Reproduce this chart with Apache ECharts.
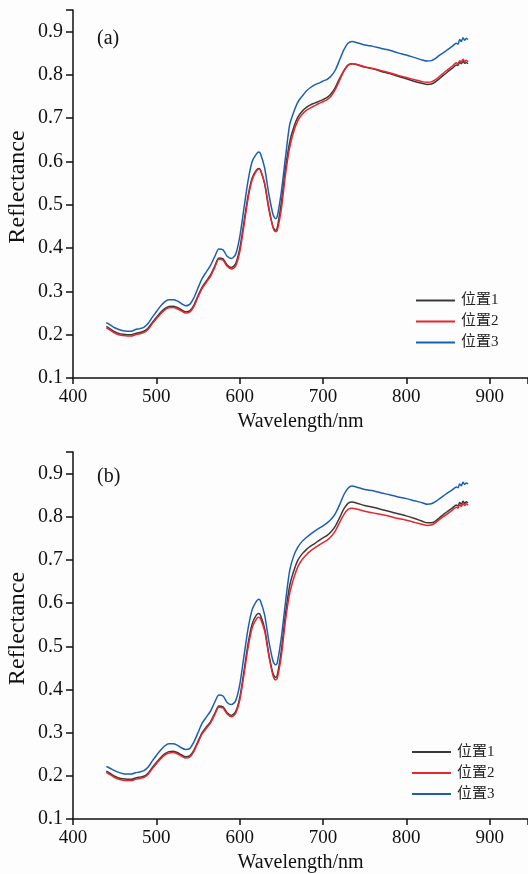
<!DOCTYPE html>
<html>
<head>
<meta charset="utf-8">
<script src="https://cdn.jsdelivr.net/npm/echarts@6/dist/echarts.min.js"></script>
<style>
html,body{margin:0;padding:0;background:#fdfdfd;}
#c{width:528px;height:874px;}
</style>
</head>
<body>
<div id="c"></div>
<script>
// Wavelength samples (nm)
const wavelengths = [
 440,445,450,455,460,465,470,475,480,485,
 490,495,500,505,510,515,520,525,530,535,
 540,545,550,555,560,565,570,575,580,585,
 590,595,600,605,610,615,620,623,625,630,
 635,640,643,645,650,655,660,665,670,675,
 680,685,690,695,700,705,710,715,720,725,
 730,735,740,750,760,770,780,790,800,810,
 820,825,830,835,840,845,850,855,860,862,
 864,866,868,870,872,874];

const seriesNames = ['位置1','位置2','位置3'];
const xTicks = [400,500,600,700,800,900];
const yTicks = [0.1,0.2,0.3,0.4,0.5,0.6,0.7,0.8,0.9];

// Panel (a)
const a_pos1 = [
 0.219,0.213,0.207,0.203,0.201,0.200,0.200,0.203,0.205,0.208,
 0.215,0.228,0.240,0.251,0.260,0.265,0.266,0.263,0.258,0.253,
 0.255,0.268,0.290,0.310,0.324,0.338,0.358,0.377,0.375,0.361,
 0.355,0.363,0.398,0.458,0.520,0.562,0.580,0.584,0.580,0.548,
 0.490,0.449,0.441,0.446,0.505,0.585,0.645,0.680,0.703,0.716,
 0.725,0.731,0.735,0.739,0.743,0.748,0.757,0.772,0.792,0.810,
 0.823,0.826,0.824,0.818,0.814,0.808,0.803,0.797,0.791,0.785,
 0.780,0.778,0.779,0.784,0.792,0.800,0.808,0.815,0.823,0.822,
 0.829,0.826,0.832,0.827,0.829,0.826];
const a_pos2 = [
 0.216,0.210,0.204,0.200,0.198,0.197,0.197,0.200,0.202,0.205,
 0.212,0.225,0.237,0.248,0.257,0.262,0.263,0.260,0.255,0.250,
 0.252,0.265,0.287,0.307,0.321,0.335,0.355,0.374,0.372,0.358,
 0.352,0.358,0.390,0.450,0.514,0.558,0.578,0.583,0.580,0.550,
 0.494,0.448,0.438,0.440,0.490,0.570,0.632,0.670,0.695,0.709,
 0.718,0.724,0.729,0.734,0.738,0.743,0.752,0.767,0.788,0.808,
 0.822,0.826,0.825,0.819,0.815,0.810,0.805,0.799,0.794,0.789,
 0.784,0.783,0.784,0.789,0.797,0.805,0.813,0.820,0.828,0.826,
 0.833,0.830,0.836,0.831,0.834,0.830];
const a_pos3 = [
 0.228,0.222,0.216,0.212,0.209,0.208,0.208,0.212,0.214,0.217,
 0.226,0.240,0.253,0.266,0.276,0.281,0.281,0.278,0.272,0.267,
 0.270,0.285,0.308,0.330,0.345,0.360,0.380,0.398,0.396,0.381,
 0.376,0.385,0.425,0.490,0.555,0.600,0.617,0.622,0.618,0.585,
 0.525,0.478,0.468,0.472,0.530,0.610,0.685,0.715,0.738,0.751,
 0.763,0.771,0.777,0.781,0.786,0.790,0.798,0.812,0.835,0.858,
 0.873,0.877,0.875,0.869,0.866,0.861,0.857,0.851,0.846,0.840,
 0.834,0.832,0.833,0.838,0.846,0.852,0.859,0.866,0.873,0.871,
 0.882,0.877,0.886,0.880,0.885,0.882];

// Panel (b)
const b_pos1 = [
 0.211,0.205,0.199,0.195,0.193,0.192,0.192,0.195,0.197,0.199,
 0.206,0.219,0.231,0.242,0.251,0.256,0.257,0.254,0.249,0.244,
 0.246,0.259,0.280,0.300,0.313,0.325,0.344,0.362,0.360,0.346,
 0.340,0.348,0.380,0.440,0.505,0.552,0.572,0.576,0.572,0.541,
 0.482,0.437,0.428,0.432,0.490,0.575,0.640,0.675,0.700,0.714,
 0.724,0.732,0.738,0.745,0.751,0.757,0.766,0.779,0.798,0.818,
 0.831,0.834,0.832,0.826,0.822,0.817,0.812,0.807,0.802,0.796,
 0.789,0.786,0.786,0.790,0.798,0.806,0.813,0.820,0.827,0.825,
 0.833,0.829,0.836,0.831,0.835,0.832];
const b_pos2 = [
 0.208,0.202,0.196,0.192,0.190,0.189,0.189,0.192,0.194,0.196,
 0.203,0.216,0.228,0.239,0.248,0.253,0.254,0.251,0.246,0.241,
 0.243,0.256,0.277,0.297,0.310,0.322,0.341,0.359,0.357,0.343,
 0.337,0.344,0.374,0.432,0.496,0.543,0.563,0.567,0.564,0.535,
 0.478,0.432,0.422,0.425,0.478,0.560,0.622,0.658,0.685,0.701,
 0.712,0.721,0.728,0.734,0.740,0.746,0.755,0.768,0.787,0.805,
 0.817,0.820,0.818,0.813,0.809,0.805,0.801,0.796,0.792,0.787,
 0.782,0.780,0.781,0.786,0.794,0.801,0.808,0.815,0.822,0.820,
 0.828,0.824,0.831,0.826,0.830,0.827];
const b_pos3 = [
 0.222,0.217,0.212,0.208,0.205,0.204,0.204,0.207,0.209,0.212,
 0.220,0.234,0.247,0.259,0.269,0.274,0.274,0.271,0.265,0.261,
 0.263,0.278,0.300,0.322,0.336,0.350,0.370,0.387,0.385,0.370,
 0.365,0.373,0.410,0.475,0.540,0.585,0.604,0.609,0.605,0.572,
 0.512,0.466,0.457,0.461,0.520,0.602,0.675,0.710,0.730,0.743,
 0.752,0.760,0.767,0.773,0.779,0.786,0.795,0.808,0.828,0.851,
 0.866,0.871,0.869,0.863,0.860,0.855,0.851,0.846,0.842,0.837,
 0.832,0.829,0.830,0.835,0.842,0.849,0.856,0.862,0.869,0.867,
 0.876,0.872,0.880,0.875,0.878,0.876];

const colors = ['#3a3a3a','#e8262d','#1c5fb2'];
const serif = '"Liberation Serif","Times New Roman",serif';
const legendFont = '"Liberation Serif","Noto Sans CJK SC",serif';

function pairs(vals){ return wavelengths.map((w,i)=>[w, vals[i]]); }

function xAxisCfg(gi){
  return {
    type:'value', gridIndex:gi, min:400, max:946, interval:100,
    name:'Wavelength/nm', nameLocation:'middle', nameGap:34, nameMoveOverlap:false,
    nameTextStyle:{fontFamily:serif,fontSize:20,color:'#111'},
    axisLine:{show:true,lineStyle:{color:'#111',width:1.5}},
    axisTick:{show:true,inside:false,length:6,lineStyle:{color:'#111',width:1.5}},
    axisLabel:{fontFamily:serif,fontSize:19,color:'#111',margin:10,
      formatter:v=> xTicks.indexOf(v)>=0 ? String(v) : ''},
    splitLine:{show:false}
  };
}
function yAxisCfg(gi){
  return {
    type:'value', gridIndex:gi, min:0.1, max:0.95, interval:0.1,
    name:'Reflectance', nameLocation:'middle', nameGap:43, nameRotate:90, nameMoveOverlap:false,
    nameTextStyle:{fontFamily:serif,fontSize:24,color:'#111',padding:[0,0,0,14]},
    axisLine:{show:true,lineStyle:{color:'#111',width:1.5}},
    axisTick:{show:true,inside:false,length:7,lineStyle:{color:'#111',width:1.5}},
    axisLabel:{fontFamily:serif,fontSize:20,color:'#111',margin:10,
      formatter:v=>{ const r=Math.round(v*10)/10; return (Math.abs(v-r)<1e-6 && yTicks.indexOf(r)>=0) ? r.toFixed(1) : ''; }},
    splitLine:{show:false}
  };
}
function mk(name, data, gi, ci){
  return {
    name:name, type:'line', xAxisIndex:gi, yAxisIndex:gi,
    data:pairs(data), symbol:'none', smooth:0.25,
    lineStyle:{color:colors[ci],width:1.5}, itemStyle:{color:colors[ci]},
    emphasis:{disabled:true}, animation:false
  };
}
function legendCfg(left, top){
  return {left:left, top:top, orient:'vertical', icon:'rect', itemWidth:39, itemHeight:2, itemGap:6,
    data:seriesNames, textStyle:{fontFamily:legendFont,fontSize:15,color:'#222',padding:[0,0,0,1]}, selectedMode:false};
}

const chart = echarts.init(document.getElementById('c'), null, {renderer:'canvas'});
chart.setOption({
  backgroundColor:'#fdfdfd',
  animation:false,
  grid:[
    {left:73, right:0, top:10, bottom:496, containLabel:false, outerBoundsMode:'none'},
    {left:73, right:0, top:452, bottom:55, containLabel:false, outerBoundsMode:'none'}
  ],
  xAxis:[xAxisCfg(0), xAxisCfg(1)],
  yAxis:[yAxisCfg(0), yAxisCfg(1)],
  legend:[legendCfg(411, 288), legendCfg(407, 739.5)],
  graphic:[
    {type:'text', left:97, top:29, style:{text:'(a)', font:'20px '+serif, fill:'#111'}},
    {type:'text', left:97, top:467, style:{text:'(b)', font:'20px '+serif, fill:'#111'}}
  ],
  series:[
    mk(seriesNames[0], a_pos1, 0, 0),
    mk(seriesNames[1], a_pos2, 0, 1),
    mk(seriesNames[2], a_pos3, 0, 2),
    mk(seriesNames[0], b_pos1, 1, 0),
    mk(seriesNames[1], b_pos2, 1, 1),
    mk(seriesNames[2], b_pos3, 1, 2)
  ]
});
</script>
</body>
</html>
